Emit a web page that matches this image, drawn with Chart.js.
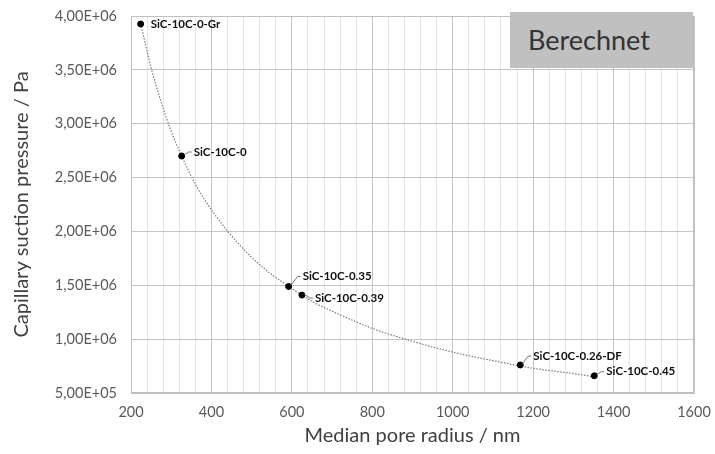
<!DOCTYPE html>
<html><head><meta charset="utf-8">
<script src="https://cdn.jsdelivr.net/npm/chart.js@4.4.1/dist/chart.umd.min.js"></script>
<style>
html,body{margin:0;padding:0;background:#fff;}
#wrap{position:relative;width:715px;height:454px;}
#box{position:absolute;left:510px;top:12px;width:183px;height:56px;background:#c0c0c0;color:#333;font-family:Lato,"Open Sans",sans-serif;font-size:27px;line-height:56px;box-sizing:border-box;padding-left:18px;}
</style></head>
<body>
<div id="wrap"><canvas id="c" width="715" height="454"></canvas><div id="box">Berechnet</div></div>
<script>
const sampleNames = ["SiC-10C-0-Gr","SiC-10C-0","SiC-10C-0.35","SiC-10C-0.39","SiC-10C-0.26-DF","SiC-10C-0.45"];
const poreRadius = [224, 326, 592, 625, 1168, 1352];
const suctionPressure = [3.926e6, 2.70e6, 1.489e6, 1.409e6, 0.760e6, 0.660e6];
const trendRadius = [224, 250, 275, 300, 326, 360, 400, 450, 500, 550, 600, 650, 700, 800, 900, 1000, 1100, 1200, 1300, 1352];
const trendPressure = [3.93e6, 3.52e6, 3.20e6, 2.93e6, 2.70e6, 2.44e6, 2.20e6, 1.96e6, 1.76e6, 1.60e6, 1.47e6, 1.35e6, 1.26e6, 1.10e6, 0.98e6, 0.88e6, 0.80e6, 0.73e6, 0.68e6, 0.65e6];

// label offsets [dx, dy, leader]
const labelOffsets = [[10,0,false],[12,-4,true],[14,-10,true],[13,3,true],[13,-9,true],[12,-4,true]];

const FONT = 'Lato, "Open Sans", sans-serif';
function fmtE(v){
  let s = v.toExponential(2);
  let [m,e] = s.split('e');
  let sign = e[0]; let n = e.slice(1).padStart(2,'0');
  return m.replace('.',',') + 'E' + sign + n;
}

const labelPlugin = {
  id:'labels',
  afterDatasetsDraw(chart){
    const ctx = chart.ctx; const xs = chart.scales.x, ys = chart.scales.y;
    ctx.save();
    ctx.font = 'bold 11.5px ' + FONT;
    ctx.fillStyle = '#111'; ctx.textBaseline='middle'; ctx.textAlign='left';
    ctx.strokeStyle = '#555'; ctx.lineWidth = 0.8;
    sampleNames.forEach((n,i)=>{
      const px = xs.getPixelForValue(poreRadius[i]), py = ys.getPixelForValue(suctionPressure[i]);
      const [dx,dy,lead] = labelOffsets[i];
      if(lead){
        ctx.beginPath();
        ctx.moveTo(px+2, py-1);
        ctx.lineTo(px+dx-5, py+dy);
        ctx.lineTo(px+dx-2, py+dy);
        ctx.stroke();
      }
      ctx.fillText(n, px+dx, py+dy);
    });
    ctx.restore();
  }
};

function noPadH(s){ s.paddingLeft = 0; s.paddingRight = 0; }
function noPadV(s){ s.paddingTop = 0; s.paddingBottom = 0; }

new Chart(document.getElementById('c'), {
  type:'scatter',
  data:{datasets:[
    {data: poreRadius.map((x,i)=>({x, y: suctionPressure[i]})), backgroundColor:'#000', borderColor:'#000', pointRadius:3, showLine:false, order:0},
    {data: trendRadius.map((x,i)=>({x, y: trendPressure[i]})), borderColor:'#7a7a7a', borderWidth:1.2, borderDash:[1.5,1.5], pointRadius:0, showLine:true, tension:0.4, cubicInterpolationMode:'monotone', order:1}
  ]},
  options:{
    responsive:false, animation:false,
    layout:{padding:{left:0,right:21,top:16,bottom:0}},
    plugins:{legend:{display:false}, tooltip:{enabled:false}},
    scales:{
      xm:{type:'linear', position:'bottom', min:200, max:1600, display:true,
        ticks:{display:false, stepSize:40}, border:{display:false},
        grid:{drawTicks:false, color:(c)=> (Math.round(c.tick.value)%200===0)?'rgba(0,0,0,0)':'#e6e6e6'},
        afterFit(s){ s.height = 0; noPadH(s); }},
      x:{type:'linear', position:'bottom', min:200, max:1600,
        ticks:{stepSize:200, color:'#595959', font:{family:FONT,size:14.5}, padding:11, maxRotation:0, callback:(v)=>String(v)},
        grid:{color:'#c4c4c4', drawTicks:false},
        border:{color:'#bfbfbf'},
        title:{display:true, text:'Median pore radius / nm', color:'#404040', font:{family:FONT,size:20}, padding:{top:0,bottom:6}},
        afterFit(s){ s.height = 61; noPadH(s); }},
      y:{type:'linear', min:5e5, max:4e6,
        ticks:{stepSize:5e5, color:'#595959', font:{family:FONT,size:14.5}, padding:14, callback:(v)=>fmtE(v)},
        grid:{color:'#c4c4c4', drawTicks:false},
        border:{color:'#bfbfbf'},
        title:{display:true, text:'Capillary suction pressure / Pa', color:'#404040', font:{family:FONT,size:20}, padding:{top:10,bottom:0}},
        afterFit(s){ s.width = 131; noPadV(s); }}
    }
  },
  plugins:[labelPlugin, {id:'frame', afterDraw(chart){const a=chart.chartArea, c=chart.ctx; c.save(); c.strokeStyle='#bfbfbf'; c.lineWidth=1; c.strokeRect(a.left+0.5,a.top+0.5,a.right-a.left-1,a.bottom-a.top-1); c.restore();}}]
});
</script>
</body></html>
